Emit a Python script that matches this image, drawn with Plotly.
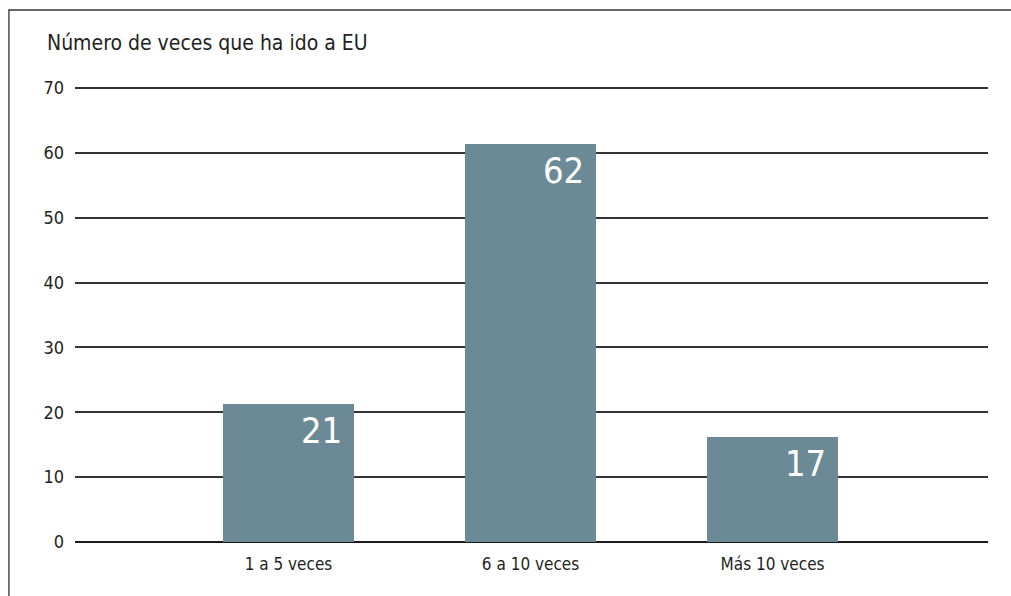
import plotly.graph_objects as go

categories = ["1 a 5 veces", "6 a 10 veces", "Más 10 veces"]
bar_heights = [21.3, 61.4, 16.2]
bar_labels = ["21", "62", "17"]
y_ticks = [0, 10, 20, 30, 40, 50, 60, 70]
title_text = "Número de veces que ha ido a EU"

BAR_COLOR = "#6b8a96"
TEXT_COLOR = "#231f20"
FONT = "DejaVu Sans Condensed, Liberation Sans Narrow, Arial Narrow, sans-serif"
BAR_WIDTH = 0.54

x_idx = list(range(len(categories)))

fig = go.Figure()
fig.add_trace(go.Bar(
    x=x_idx, y=bar_heights, width=BAR_WIDTH,
    marker=dict(color=BAR_COLOR, line=dict(width=0)),
    hoverinfo="skip",
))

for i, (h, lab) in enumerate(zip(bar_heights, bar_labels)):
    fig.add_annotation(
        x=i + BAR_WIDTH / 2, y=h, xref="x", yref="y",
        text=lab, showarrow=False,
        xanchor="right", yanchor="top", xshift=-10, yshift=-4,
        font=dict(family=FONT, size=36, color="white"),
    )

fig.update_layout(
    width=1011, height=596,
    margin=dict(l=75, r=23, t=86, b=54),
    paper_bgcolor="white", plot_bgcolor="white",
    showlegend=False,
    bargap=0,
    font=dict(family=FONT, color=TEXT_COLOR, size=17),
    title=dict(
        text=title_text, xref="container", yref="container",
        x=47 / 1011, xanchor="left", y=1 - 43 / 596, yanchor="middle",
        font=dict(family=FONT, size=21, color=TEXT_COLOR),
    ),
    xaxis=dict(
        tickmode="array", tickvals=x_idx, ticktext=categories,
        range=[-0.882, 2.89], showgrid=False, zeroline=False,
        showline=False, ticks="", ticklabelstandoff=10,
        tickfont=dict(family=FONT, size=17, color=TEXT_COLOR),
    ),
    yaxis=dict(
        range=[0, 70.3], tickmode="array", tickvals=y_ticks,
        showgrid=True, gridcolor="#333333", gridwidth=1.5,
        zeroline=True, zerolinecolor="#1a1a1a", zerolinewidth=1.8,
        showline=False, ticks="", ticklabelstandoff=10,
        tickfont=dict(family=FONT, size=18, color=TEXT_COLOR),
    ),
    shapes=[
        dict(type="path", xref="paper", yref="paper",
             path="M %f,%f L %f,%f L %f,%f" % (
                 (9 - 75) / 912, (542 - 596) / 456,
                 (9 - 75) / 912, (542 - 10) / 456,
                 (1011 - 75) / 912, (542 - 10) / 456),
             line=dict(color="#333333", width=1.3)),
    ],
)

fig.write_html(
    "out.html",
    config={"displayModeBar": False},
    post_script=(
        "document.documentElement.style.margin='0';"
        "document.documentElement.style.padding='0';"
        "document.documentElement.style.overflow='hidden';"
        "document.body.style.margin='0';"
        "document.body.style.padding='0';"
        "document.body.style.overflow='hidden';"
    ),
)
